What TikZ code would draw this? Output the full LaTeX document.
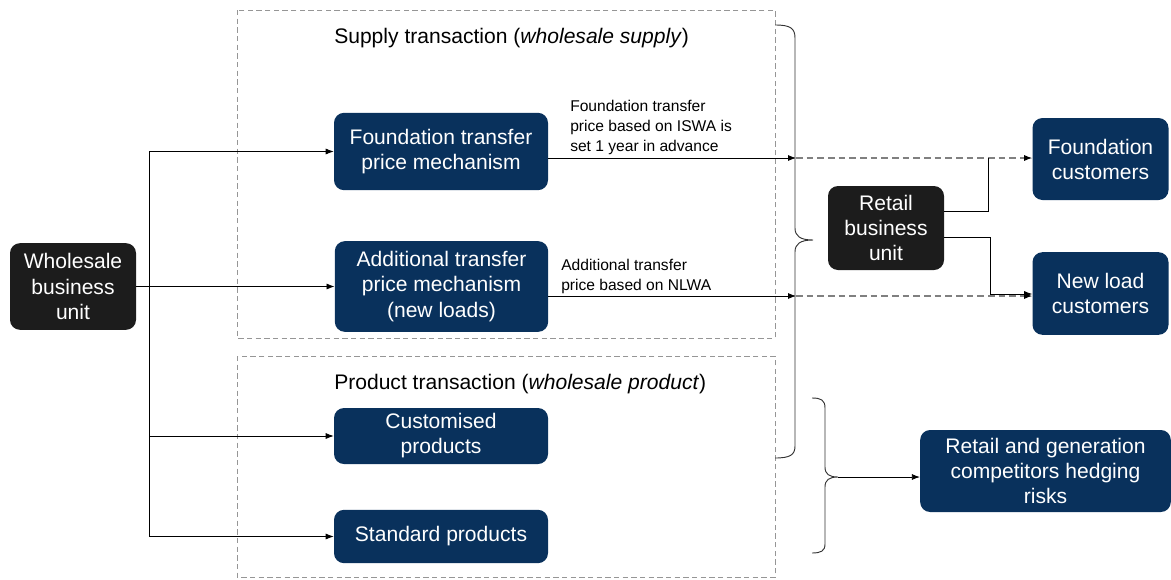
\documentclass[tikz,border=0pt]{standalone}
\usepackage{fontspec}
\setmainfont{Liberation Sans}
\usetikzlibrary{arrows.meta}
\definecolor{navybox}{RGB}{9,49,92}
\definecolor{darkbox}{RGB}{28,28,28}
\definecolor{framegray}{RGB}{150,150,150}

\begin{document}
\begin{tikzpicture}[x=0.75pt,y=0.75pt,yscale=-1,xscale=1,
  unitbox/.style={rectangle,rounded corners=7.5pt,fill=darkbox,text=white,align=center,font=\fontsize{15.8}{18.8}\selectfont,inner sep=0pt},
  mechbox/.style={rectangle,rounded corners=7.5pt,fill=navybox,text=white,align=center,font=\fontsize{15.8}{18.8}\selectfont,inner sep=0pt},
  framebox/.style={draw=framegray,dash pattern={on 4pt off 2.5pt},line width=0.6pt},
  flow/.style={draw=black,line width=0.6pt,-{Latex[length=6pt,width=4.5pt]}},
  dashflow/.style={draw=gray,line width=0.8pt,dash pattern={on 5pt off 3pt},-{Latex[length=6pt,width=4.5pt,color=black]}},
  bracket/.style={draw=black!80,line width=0.7pt},
  pricenote/.style={anchor=north west,align=left,inner sep=0pt,font=\fontsize{11.7}{15}\selectfont},
  ]
\useasboundingbox (0,0) rectangle (1171,579);
% transaction frames
\draw [framebox] (237,10) rectangle (775,338);
\draw [framebox] (237,356) rectangle (775,577);
\node [anchor=west,inner sep=0pt,font=\fontsize{15.8}{18}\selectfont] (supplytitle) at (334,38) {Supply transaction (\textit{wholesale supply})};
\node [anchor=west,inner sep=0pt,font=\fontsize{15.8}{18}\selectfont] (producttitle) at (334,384) {Product transaction (\textit{wholesale product})};
% boxes
\node [unitbox,minimum width=94.5pt,minimum height=65pt] (wholesale) at (73,286.5) {Wholesale\\business\\unit};
\node [mechbox,minimum width=160.5pt,minimum height=58pt] (fndmech) at (441,151.5) {Foundation transfer\\price mechanism};
\node [mechbox,minimum width=160pt,minimum height=68pt] (addmech) at (441.5,286.5) {Additional transfer\\price mechanism\\(new loads)};
\node [mechbox,minimum width=160.5pt,minimum height=42pt] (custprod) at (441,436) {Customised\\products};
\node [mechbox,minimum width=160.5pt,minimum height=40pt] (stdprod) at (441,536.5) {Standard products};
\node [unitbox,minimum width=87pt,minimum height=63pt] (retail) at (886,228) {Retail\\business\\unit};
\node [mechbox,minimum width=102pt,minimum height=61.5pt] (fndcust) at (1100.5,159) {Foundation\\customers};
\node [mechbox,minimum width=102pt,minimum height=62pt] (newcust) at (1100.5,293.5) {New load\\customers};
\node [mechbox,minimum width=188pt,minimum height=61.5pt] (hedging) at (1045.5,471) {Retail and generation\\competitors hedging\\risks};
% braces
\coordinate (tipA) at (813,240);
\coordinate (tipB) at (838,477);
\draw [bracket] (775,25) .. controls (790,25) and (795,28) .. (795,38) -- (795,228) .. controls (795,236) and (800,240) .. (tipA) .. controls (800,240) and (795,244) .. (795,252) -- (795,446) .. controls (795,455) and (790,458) .. (775,458);
\draw [bracket] (812,398) .. controls (821,398) and (825,400) .. (825,408) -- (825,467) .. controls (825,474) and (829,477) .. (tipB) .. controls (829,477) and (825,480) .. (825,487) -- (825,544) .. controls (825,551) and (821,553) .. (812,553);
% wholesale to mechanisms
\coordinate (trunk) at (149,286.5);
\draw [line width=0.6pt] (trunk |- fndmech) -- (trunk |- stdprod);
\draw [flow] (trunk |- fndmech) -- (fndmech.west);
\draw [flow] (wholesale.east) -- (addmech.west);
\draw [flow] (trunk |- custprod) -- (custprod.west);
\draw [flow] (trunk |- stdprod) -- (stdprod.west);
% prices to retail side
\coordinate (fndhit) at (796,158);
\coordinate (addhit) at (796,296);
\draw [flow] (fndmech.east |- fndhit) -- (fndhit);
\draw [flow] (addmech.east |- addhit) -- (addhit);
\draw [dashflow] (fndhit) -- (fndhit -| fndcust.west);
\draw [dashflow] (addhit) -- (addhit -| newcust.west);
\node [pricenote] (fndnote) at (570,99.5) {Foundation transfer\\price based on ISWA is\\set 1 year in advance};
\node [pricenote] (addnote) at (561,258.5) {Additional transfer\\price based on NLWA};
% retail to customers
\draw [line width=0.6pt] (retail.east |- 0,211) -- (988,211) -- (988,158);
\draw [flow] (retail.east |- 0,237) -- (990,237) -- (990,294) -- (newcust.west |- 0,294);
% products to competitors
\draw [flow] (tipB) -- (tipB -| hedging.west);
\end{tikzpicture}
\end{document}
